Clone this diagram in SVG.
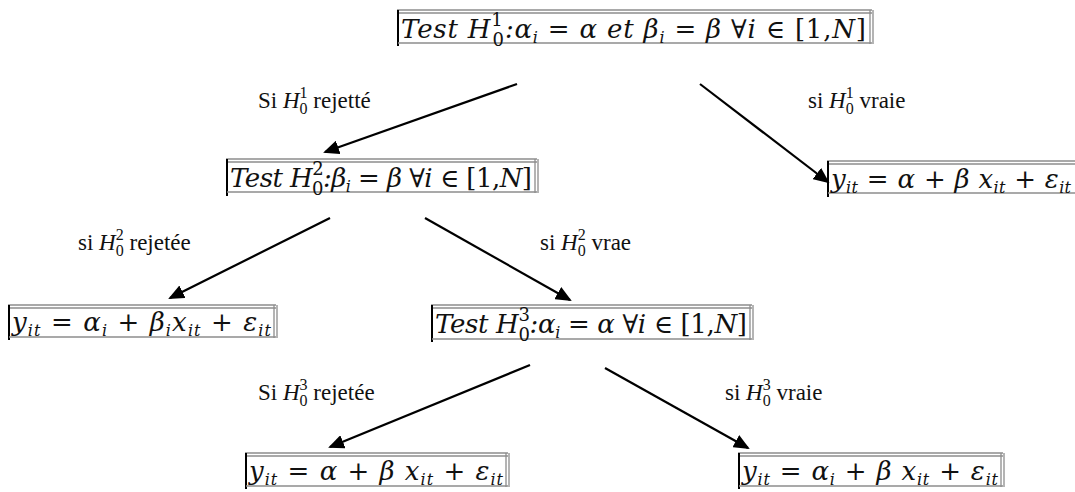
<svg xmlns="http://www.w3.org/2000/svg" width="1075" height="492" viewBox="0 0 1075 492">
<style>
.m{font-family:"DejaVu Serif","Liberation Serif",serif;font-style:italic;font-size:26px;fill:#111}
.up{font-style:normal}
.lab{font-family:"Liberation Serif","Times New Roman","DejaVu Serif",serif;font-size:23px;fill:#111}
.it{font-style:italic}
.s{font-size:16px}
.h{font-size:18px;font-style:normal}
.ls{font-size:16px}
.g{stroke:#8c8c8c;stroke-width:1.3;fill:none}
.k{stroke:#000;stroke-width:2;fill:none}
.arr{stroke:#000;stroke-width:2.2;fill:none;marker-end:url(#ah)}
</style>
<defs>
<marker id="ah" markerWidth="16" markerHeight="14" refX="14" refY="7" orient="auto" markerUnits="userSpaceOnUse">
<path d="M0,0 L16,7 L0,14 Z" fill="#000"/>
</marker>
</defs>
<rect width="1075" height="492" fill="#fff"/>

<g id="connectors">
<line class="arr" x1="517" y1="84" x2="325" y2="152"/>
<line class="arr" x1="700" y1="84" x2="828" y2="182"/>
<line class="arr" x1="330" y1="218" x2="170" y2="298"/>
<line class="arr" x1="425" y1="218" x2="570" y2="300"/>
<line class="arr" x1="530" y1="365" x2="330" y2="447"/>
<line class="arr" x1="605" y1="368" x2="748" y2="448"/>
</g>

<g id="labels">
<text class="lab" x="258" y="108">Si <tspan class="it">H</tspan><tspan class="ls" dy="-10">1</tspan><tspan class="ls" dx="-8" dy="16">0</tspan><tspan dy="-6"> rejetté</tspan></text>
<text class="lab" x="808" y="108">si  <tspan class="it">H</tspan><tspan class="ls" dy="-10">1</tspan><tspan class="ls" dx="-8" dy="16">0</tspan><tspan dy="-6"> vraie</tspan></text>
<text class="lab" x="78" y="250">si <tspan class="it">H</tspan><tspan class="ls" dy="-10">2</tspan><tspan class="ls" dx="-8" dy="16">0</tspan><tspan dy="-6"> rejetée</tspan></text>
<text class="lab" x="540" y="250">si  <tspan class="it">H</tspan><tspan class="ls" dy="-10">2</tspan><tspan class="ls" dx="-8" dy="16">0</tspan><tspan dy="-6"> vrae</tspan></text>
<text class="lab" x="258" y="400">Si <tspan class="it">H</tspan><tspan class="ls" dy="-10">3</tspan><tspan class="ls" dx="-8" dy="16">0</tspan><tspan dy="-6">  rejetée</tspan></text>
<text class="lab" x="725" y="400">si  <tspan class="it">H</tspan><tspan class="ls" dy="-10">3</tspan><tspan class="ls" dx="-8" dy="16">0</tspan><tspan dy="-6"> vraie</tspan></text>
</g>

<g id="test1">
<line class="g" x1="397" y1="10" x2="872" y2="10"/><line class="g" x1="397" y1="13" x2="872" y2="13"/>
<line class="k" x1="398" y1="10" x2="398" y2="46"/>
<line class="g" x1="870" y1="10" x2="870" y2="44"/><line class="g" x1="873" y1="10" x2="873" y2="44"/>
<line class="g" x1="398" y1="43" x2="872" y2="43"/>
<text class="m" x="401" y="38" textLength="465" lengthAdjust="spacing">Test H<tspan class="h" dy="-12">1</tspan><tspan class="h" dx="-11" dy="20">0</tspan><tspan dy="-8">:α</tspan><tspan class="s" dy="5">i</tspan><tspan dy="-5" class="up"> = </tspan>α et β<tspan class="s" dy="5">i</tspan><tspan dy="-5" class="up"> = </tspan>β <tspan class="up">∀</tspan>i <tspan class="up">∈ [1,</tspan>N<tspan class="up">]</tspan></text>
</g>

<g id="test2">
<line class="g" x1="226" y1="159" x2="537" y2="159"/><line class="g" x1="226" y1="162" x2="537" y2="162"/>
<line class="k" x1="227" y1="159" x2="227" y2="196"/>
<line class="g" x1="535" y1="159" x2="535" y2="193"/><line class="g" x1="538" y1="159" x2="538" y2="193"/>
<line class="g" x1="227" y1="192" x2="537" y2="192"/>
<text class="m" x="230" y="187" textLength="302" lengthAdjust="spacing">Test H<tspan class="h" dy="-12">2</tspan><tspan class="h" dx="-11" dy="20">0</tspan><tspan dy="-8">:β</tspan><tspan class="s" dy="5">i</tspan><tspan dy="-5" class="up"> = </tspan>β <tspan class="up">∀</tspan>i <tspan class="up">∈ [1,</tspan>N<tspan class="up">]</tspan></text>
</g>

<g id="model1">
<line class="g" x1="827" y1="161" x2="1075" y2="161"/><line class="g" x1="827" y1="164" x2="1075" y2="164"/>
<line class="k" x1="828" y1="161" x2="828" y2="197"/>
<line class="g" x1="828" y1="193" x2="1075" y2="193"/>
<text class="m" x="831" y="188" textLength="240" lengthAdjust="spacing">y<tspan class="s" dy="5">it</tspan><tspan dy="-5" class="up"> = </tspan>α <tspan class="up">+ </tspan>β x<tspan class="s" dy="5">it</tspan><tspan dy="-5" class="up"> + </tspan>ε<tspan class="s" dy="5">it</tspan></text>
</g>

<g id="model2">
<line class="g" x1="8" y1="305" x2="276" y2="305"/><line class="g" x1="8" y1="308" x2="276" y2="308"/>
<line class="k" x1="9" y1="305" x2="9" y2="340"/>
<line class="g" x1="274" y1="305" x2="274" y2="338"/><line class="g" x1="277" y1="305" x2="277" y2="338"/>
<line class="g" x1="9" y1="337" x2="276" y2="337"/>
<text class="m" x="12" y="331" textLength="259" lengthAdjust="spacing">y<tspan class="s" dy="5">it</tspan><tspan dy="-5" class="up"> = </tspan>α<tspan class="s" dy="5">i</tspan><tspan dy="-5" class="up"> + </tspan>β<tspan class="s" dy="5">i</tspan><tspan dy="-5">x</tspan><tspan class="s" dy="5">it</tspan><tspan dy="-5" class="up"> + </tspan>ε<tspan class="s" dy="5">it</tspan></text>
</g>

<g id="test3">
<line class="g" x1="431" y1="305" x2="752" y2="305"/><line class="g" x1="431" y1="308" x2="752" y2="308"/>
<line class="k" x1="432" y1="305" x2="432" y2="342"/>
<line class="g" x1="750" y1="305" x2="750" y2="340"/><line class="g" x1="753" y1="305" x2="753" y2="340"/>
<line class="g" x1="432" y1="339" x2="752" y2="339"/>
<text class="m" x="435" y="333" textLength="312" lengthAdjust="spacing">Test H<tspan class="h" dy="-12">3</tspan><tspan class="h" dx="-11" dy="20">0</tspan><tspan dy="-8">:α</tspan><tspan class="s" dy="5">i</tspan><tspan dy="-5" class="up"> = </tspan>α <tspan class="up">∀</tspan>i <tspan class="up">∈ [1,</tspan>N<tspan class="up">]</tspan></text>
</g>

<g id="model3">
<line class="g" x1="245" y1="453" x2="508" y2="453"/><line class="g" x1="245" y1="456" x2="508" y2="456"/>
<line class="k" x1="246" y1="453" x2="246" y2="489"/>
<line class="g" x1="506" y1="453" x2="506" y2="487"/><line class="g" x1="509" y1="453" x2="509" y2="487"/>
<line class="g" x1="246" y1="486" x2="508" y2="486"/>
<text class="m" x="249" y="480" textLength="254" lengthAdjust="spacing">y<tspan class="s" dy="5">it</tspan><tspan dy="-5" class="up"> = </tspan>α <tspan class="up">+ </tspan>β x<tspan class="s" dy="5">it</tspan><tspan dy="-5" class="up"> + </tspan>ε<tspan class="s" dy="5">it</tspan></text>
</g>

<g id="model4">
<line class="g" x1="738" y1="453" x2="1003" y2="453"/><line class="g" x1="738" y1="456" x2="1003" y2="456"/>
<line class="k" x1="739" y1="453" x2="739" y2="489"/>
<line class="g" x1="1001" y1="453" x2="1001" y2="487"/><line class="g" x1="1004" y1="453" x2="1004" y2="487"/>
<line class="g" x1="739" y1="486" x2="1003" y2="486"/>
<text class="m" x="742" y="480" textLength="256" lengthAdjust="spacing">y<tspan class="s" dy="5">it</tspan><tspan dy="-5" class="up"> = </tspan>α<tspan class="s" dy="5">i</tspan><tspan dy="-5" class="up"> + </tspan>β x<tspan class="s" dy="5">it</tspan><tspan dy="-5" class="up"> + </tspan>ε<tspan class="s" dy="5">it</tspan></text>
</g>
</svg>
